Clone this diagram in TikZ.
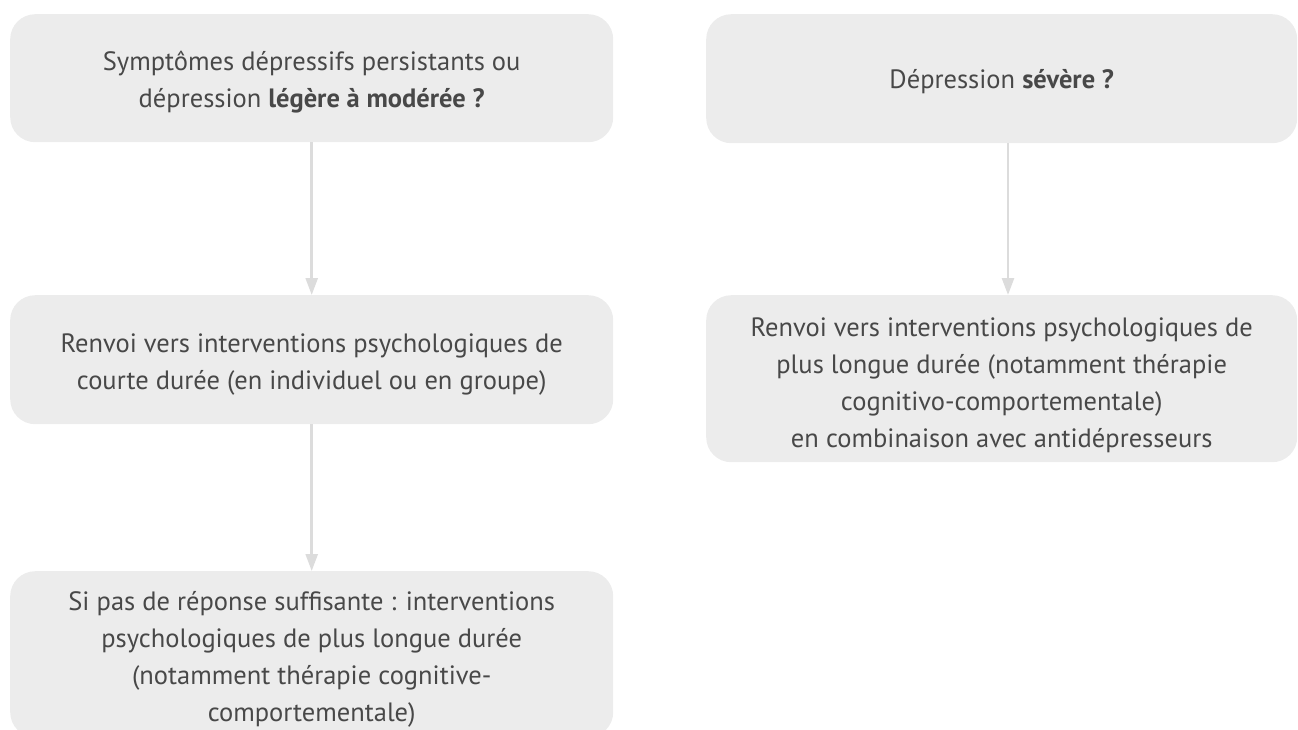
\documentclass[tikz,border=0pt]{standalone}
\usepackage{fontspec}
\setmainfont{PT Sans}
\usetikzlibrary{arrows.meta}
\definecolor{boxfill}{HTML}{ECECEC}
\definecolor{txt}{HTML}{484848}
\definecolor{arr}{HTML}{DCDCDC}
\tikzset{
  box/.style={fill=boxfill, rounded corners=25pt, inner sep=0pt, anchor=north west},
  lbl/.style={align=center, text=txt, inner sep=0pt,
    font=\fontsize{26.5pt}{37pt}\selectfont},
  conn/.style={draw=arr, line width=2.6pt, -{Triangle[width=12pt,length=17pt]}}
}
\begin{document}
\begin{tikzpicture}[x=1pt,y=-1pt]
\useasboundingbox (0,0) rectangle (1298,729);
\clip (0,0) rectangle (1298,729);
\node[box, minimum width=603pt, minimum height=128pt] (a1) at (10,14) {};
\node[box, minimum width=603pt, minimum height=129pt] (a2) at (10,295) {};
\node[box, minimum width=603pt, minimum height=166pt] (a3) at (10,571) {};
\node[box, minimum width=591pt, minimum height=129pt] (b1) at (706,14) {};
\node[box, minimum width=591pt, minimum height=167pt] (b2) at (706,295) {};
\node[lbl] (a1t) at ([yshift=-4pt]a1.center)
  {Symptômes dépressifs persistants ou\\dépression \textbf{légère à modérée ?}};
\node[lbl] (a2t) at ([yshift=-5pt]a2.center)
  {Renvoi vers interventions psychologiques de\\courte durée (en individuel ou en groupe)};
\node[lbl] (a3t) at ([yshift=-5pt]a3.center)
  {Si pas de réponse suffisante : interventions\\psychologiques de plus longue durée\\(notamment thérapie cognitive-\\comportementale)};
\node[lbl] (b1t) at ([yshift=-3pt]b1.center)
  {Dépression \textbf{sévère ?}};
\node[lbl] (b2t) at ([yshift=-7pt]b2.center)
  {Renvoi vers interventions psychologiques de\\plus longue durée (notamment thérapie\\cognitivo-comportementale)\\en combinaison avec antidépresseurs};
\coordinate (b1s) at (1008,143);
\coordinate (b2n) at (1008,295);
\draw[conn] (a1.south) -- (a2.north);
\draw[conn] (a2.south) -- (a3.north);
\draw[conn] (b1s) -- (b2n);
\end{tikzpicture}
\end{document}
